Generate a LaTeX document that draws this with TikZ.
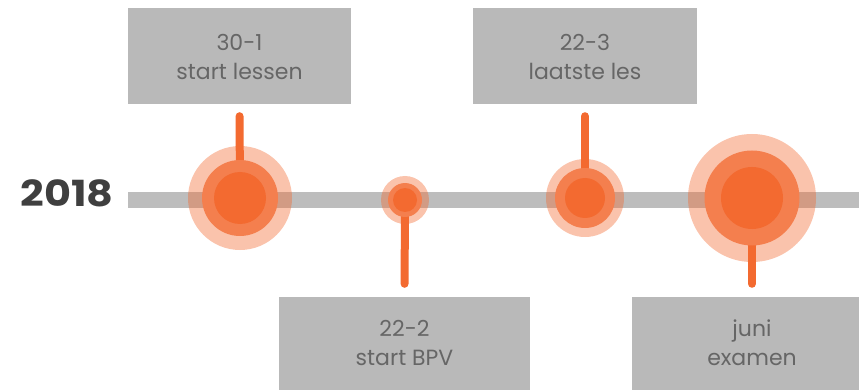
\documentclass[tikz,border=0pt]{standalone}
\usepackage{fontspec}
\setmainfont{Poppins}
\definecolor{orng}{HTML}{F36A30}
\definecolor{orngmid}{HTML}{F47F4E}
\definecolor{bargray}{HTML}{BDBDBD}
\definecolor{boxgray}{HTML}{B9B9B9}
\definecolor{txtgray}{HTML}{666666}
\definecolor{yeargray}{HTML}{3F3F3F}
\tikzset{
  labelbox/.style={fill=boxgray, draw=none, inner sep=0pt},
  boxtext/.style={text=txtgray, align=center, inner sep=0pt, font=\fontsize{22}{29}\selectfont},
  halo/.style={circle, fill=orng, fill opacity=0.4, draw=none, inner sep=0pt},
  ring/.style={circle, fill=orngmid, draw=none, inner sep=0pt},
  dot/.style={circle, fill=orng, draw=none, inner sep=0pt},
  stem/.style={draw=orng, line width=8pt, line cap=round},
  bar/.style={fill=bargray, draw=none}
}
\begin{document}
\begin{tikzpicture}[x=1pt,y=-1pt]
\useasboundingbox (0,0) rectangle (859,390);
% year label
\node[font=\fontsize{36}{36}\bfseries, text=yeargray, anchor=east, inner sep=0pt] (year) at (114,193) {\scalebox{1.15}[1]{2018}};
% timeline bar
\fill[bar] (128,192) rectangle (870,208);
\coordinate (barstart) at (128,200);
% boxes
\node[labelbox, minimum width=223pt, minimum height=96pt] (b1) at (239.5,56) {};
\node[boxtext] (t1) at (239.5,57) {30-1\\start lessen};
\node[labelbox, minimum width=224pt, minimum height=96pt] (b3) at (585,56) {};
\node[boxtext] (t3) at (585,57) {22-3\\laatste les};
\node[labelbox, minimum width=251pt, minimum height=98pt] (b2) at (404.5,346) {};
\node[boxtext] (t2) at (404.5,343) {22-2\\start BPV};
\node[labelbox, minimum width=240pt, minimum height=98pt] (b4) at (752,346) {};
\node[boxtext] (t4) at (752,343) {juni\\examen};
% halos
\node[halo, minimum size=104pt] (h1) at (240,198) {};
\node[halo, minimum size=48pt] (h2) at (405,200) {};
\node[halo, minimum size=78pt] (h3) at (585,198) {};
\node[halo, minimum size=128pt] (h4) at (752,198) {};
% stems
\draw[stem, shorten <=12pt] (b1.south) -- (h1.center);
\draw[stem, shorten <=12pt] (b3.south) -- (h3.center);
\draw[stem, shorten <=13pt] (b2.north) -- (h2.center);
\draw[stem, shorten <=13pt] (b4.north) -- (h4.center);
% rings and dots
\node[ring, minimum size=76pt] (r1) at (240,198) {};
\node[ring, minimum size=34pt] (r2) at (405,200) {};
\node[ring, minimum size=60pt] (r3) at (585,198) {};
\node[ring, minimum size=95pt] (r4) at (752,198) {};
\node[dot, minimum size=52pt] (d1) at (240,198) {};
\node[dot, minimum size=24pt] (d2) at (405,200) {};
\node[dot, minimum size=40pt] (d3) at (585,198) {};
\node[dot, minimum size=62pt] (d4) at (752,198) {};
\end{tikzpicture}
\end{document}
